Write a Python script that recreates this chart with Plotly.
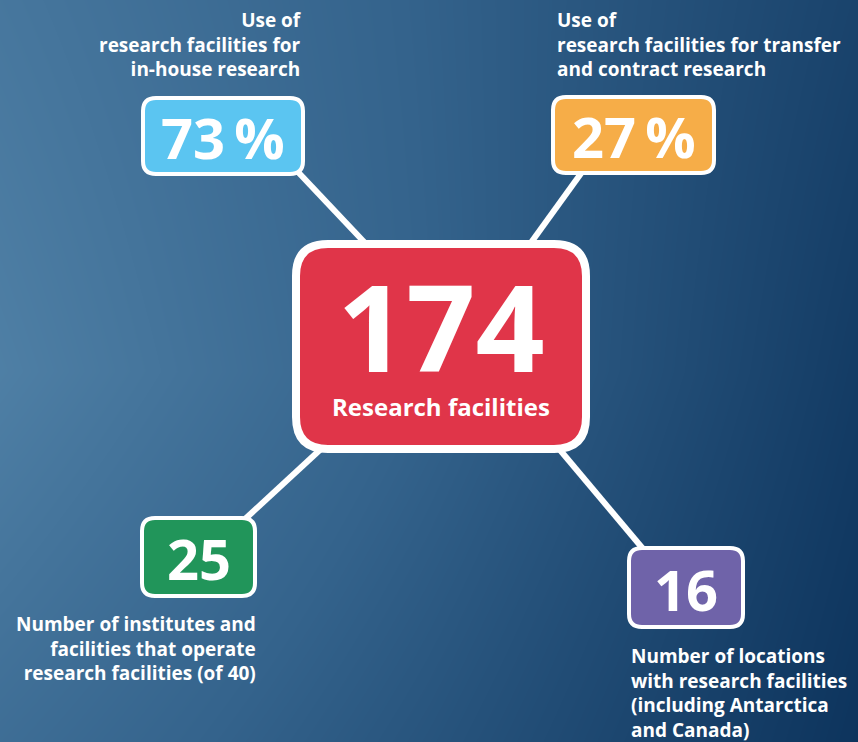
import plotly.graph_objects as go

# ---------------- data ----------------
center_value = "174"
center_label = "Research facilities"
kpi_values = ["73\u2009%", "27\u2009%", "25", "16"]
kpi_labels = [
    "Use of<br>research facilities for<br>in-house research",
    "Use of<br>research facilities for transfer<br>and contract research",
    "Number of institutes and<br>facilities that operate<br>research facilities (of 40)",
    "Number of locations<br>with research facilities<br>(including Antarctica<br>and Canada)",
]

# ---------------- layout / style ----------------
W, H = 858, 742
FONT = "Open Sans"
kpi_colors = ["#5bc5f1", "#f6ad48", "#21955a", "#6f63a9"]
center_color = "#e03549"
# boxes: x0, y0, x1, y1 (pixel space, y down)
kpi_boxes = [(141, 96, 305, 176), (551, 95, 716, 175), (140, 516, 257, 598), (627, 546, 745, 629)]
center_box = (292, 240, 590, 453)
connectors = [((298, 172), (366, 244)), ((582, 172), (530, 244)),
              ((322, 448), (244, 520)), ((560, 450), (644, 550))]
label_pos = [(304, 5, "right"), (555, 5, "left"), (258, 609, "right"), (629, 641, "left")]


def rounded(x0, y0, x1, y1, r):
    return (f"M{x0+r},{y0} L{x1-r},{y0} Q{x1},{y0} {x1},{y0+r} "
            f"L{x1},{y1-r} Q{x1},{y1} {x1-r},{y1} L{x0+r},{y1} "
            f"Q{x0},{y1} {x0},{y1-r} L{x0},{y0+r} Q{x0},{y0} {x0+r},{y0} Z")


fig = go.Figure()

# gradient background
fig.add_trace(go.Heatmap(
    x=[0, 429, 858], y=[0, 371, 742],
    z=[[0.22, 0.52, 0.84], [0.10, 0.50, 0.92], [0.35, 0.66, 1.0]],
    zsmooth="best", showscale=False, hoverinfo="skip",
    colorscale=[[0, "#5586ab"], [0.5, "#34638c"], [1, "#0d345d"]],
    zmin=0, zmax=1,
))

shapes = []
for (a, b) in connectors:
    shapes.append(dict(type="line", x0=a[0], y0=a[1], x1=b[0], y1=b[1],
                       line=dict(color="white", width=6), layer="above"))
for (x0, y0, x1, y1), c in zip(kpi_boxes, kpi_colors):
    shapes.append(dict(type="path", path=rounded(x0 + 2, y0 + 2, x1 - 2, y1 - 2, 13),
                       fillcolor=c, line=dict(color="white", width=4), layer="above"))
cx0, cy0, cx1, cy1 = center_box
shapes.append(dict(type="path", path=rounded(cx0 + 4, cy0 + 4, cx1 - 4, cy1 - 4, 32),
                   fillcolor=center_color, line=dict(color="white", width=8), layer="above"))

annotations = []
for (x0, y0, x1, y1), v in zip(kpi_boxes, kpi_values):
    annotations.append(dict(x=(x0 + x1) / 2, y=(y0 + y1) / 2 + 1, text=f"<b>{v}</b>",
                            showarrow=False, xanchor="center", yanchor="middle",
                            font=dict(family=FONT, size=56, color="white")))
center_text = (f"<b><span style='font-size:121px'>{center_value}</span><br>"
               f"<span style='font-size:24px'>{center_label}</span></b>")
annotations.append(dict(x=(cx0 + cx1) / 2, y=333, text=center_text,
                        showarrow=False, xanchor="center", yanchor="middle", align="center",
                        font=dict(family=FONT, size=33.5, color="white")))
for (x, y, al), t in zip(label_pos, kpi_labels):
    annotations.append(dict(x=x, y=y, text=f"<b>{t}</b>", showarrow=False,
                            xanchor=al, yanchor="top", align=al,
                            font=dict(family=FONT, size=19, color="white")))

fig.update_layout(
    width=W, height=H, margin=dict(l=0, r=0, t=0, b=0),
    paper_bgcolor="#3a6a92", plot_bgcolor="#3a6a92",
    xaxis=dict(range=[0, W], visible=False, fixedrange=True),
    yaxis=dict(range=[H, 0], visible=False, fixedrange=True),
    shapes=shapes, annotations=annotations, showlegend=False,
)

fig.write_html("out.html", config={"displayModeBar": False},
               post_script="document.body.style.margin='0';document.body.style.overflow='hidden';")
